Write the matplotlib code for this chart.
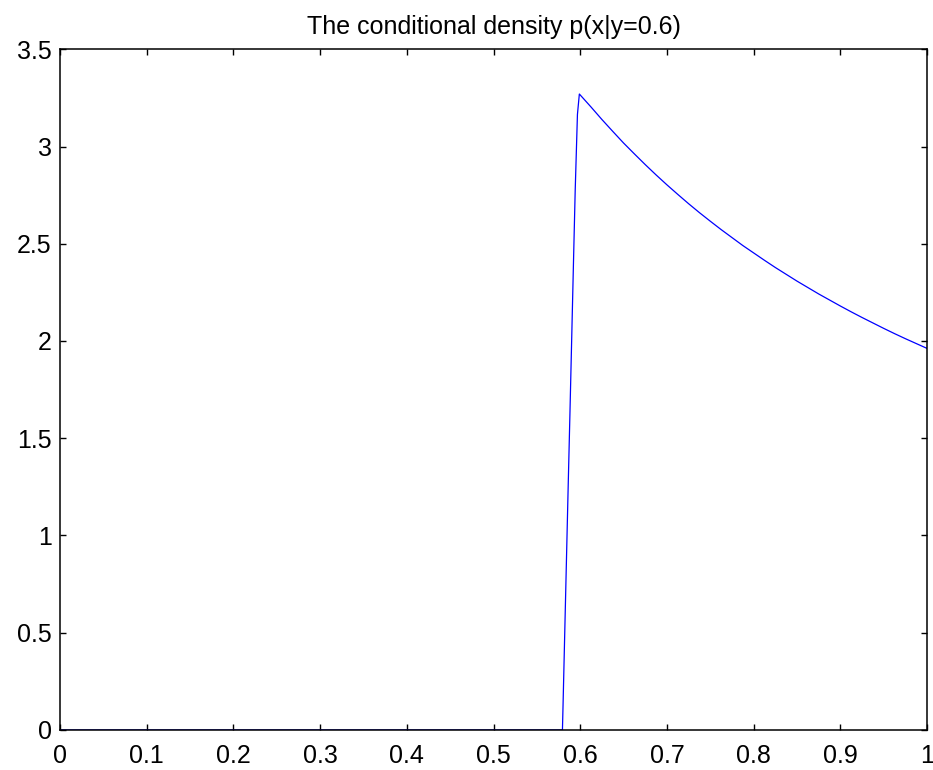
import matplotlib
matplotlib.use("Agg")
import matplotlib.pyplot as plt

# values
x_vals = [0.0, 0.5795, 0.5802, 0.5822, 0.5842, 0.5862, 0.5882, 0.5902,
          0.5922, 0.5942, 0.5968, 0.5990,
          0.6125, 0.625, 0.6375, 0.65, 0.6625, 0.675, 0.6875, 0.70,
          0.7125, 0.725, 0.7375, 0.75, 0.7625, 0.775, 0.7875, 0.80,
          0.8125, 0.825, 0.8375, 0.85, 0.8625, 0.875, 0.8875, 0.90,
          0.9125, 0.925, 0.9375, 0.95, 0.9625, 0.975, 0.9875, 1.0]
p_vals = [0.0, 0.0, 0.127, 0.508, 0.888, 1.268, 1.637, 2.017,
          2.398, 2.771, 3.165, 3.270,
          3.203, 3.139, 3.078, 3.018, 2.962, 2.907, 2.854, 2.803,
          2.754, 2.706, 2.660, 2.616, 2.573, 2.532, 2.491, 2.453,
          2.415, 2.378, 2.343, 2.308, 2.275, 2.242, 2.211, 2.180,
          2.150, 2.121, 2.093, 2.065, 2.038, 2.012, 1.987, 1.962]

x_ticks = [0, 0.1, 0.2, 0.3, 0.4, 0.5, 0.6, 0.7, 0.8, 0.9, 1]
x_labels = ["0", "0.1", "0.2", "0.3", "0.4", "0.5", "0.6", "0.7", "0.8", "0.9", "1"]
y_ticks = [0, 0.5, 1, 1.5, 2, 2.5, 3, 3.5]
y_labels = ["0", "0.5", "1", "1.5", "2", "2.5", "3", "3.5"]

plt.rcParams["font.family"] = ["Liberation Sans", "DejaVu Sans"]

fig = plt.figure(figsize=(9.33, 7.7), dpi=100)
ax = fig.add_axes([0.0643, 0.052, 0.9293, 0.884])

ax.plot(x_vals, p_vals, color=(0, 0, 1), linewidth=0.9)

ax.set_xlim(0, 1)
ax.set_ylim(0, 3.5)
ax.set_xticks(x_ticks)
ax.set_xticklabels(x_labels)
ax.set_yticks(y_ticks)
ax.set_yticklabels(y_labels)

ax.tick_params(direction="in", length=4, width=1, labelsize=18,
               top=True, right=True)
ax.tick_params(axis="x", pad=10)
ax.tick_params(axis="y", pad=6)
for s in ax.spines.values():
    s.set_linewidth(1.1)

ax.set_title("The conditional density p(x|y=0.6)", fontsize=18, pad=11)

fig.savefig("out.png", dpi=100)
